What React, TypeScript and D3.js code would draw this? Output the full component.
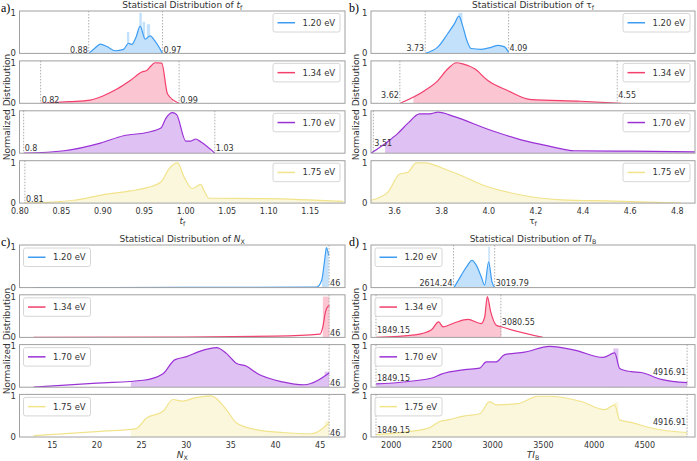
import React from 'react';
import * as d3 from 'd3';

type Pt = [number, number];
type Bar = [number, number, number];
type Mark = { v: number; label: string; side: 'l' | 'r'; ly: number };
type Part = string | { i: string } | { sub: string };

const energies = ['1.20 eV', '1.34 eV', '1.70 eV', '1.75 eV'];
const colors = ['#3d9df3', '#f23f6b', '#9a32d6', '#f1e38c'];

// ---- t_f ----
const tf120: Pt[] = [[0.883, 0], [0.890, 0.12], [0.897, 0.23], [0.905, 0.17], [0.915, 0.065], [0.925, 0.1], [0.931, 0.25], [0.935, 0.22], [0.940, 0.4], [0.945, 0.67], [0.951, 0.35], [0.957, 0.43], [0.963, 0.3], [0.972, 0]];
const tf134: Pt[] = [[0.825, 0], [0.86, 0.04], [0.885, 0.08], [0.90, 0.18], [0.917, 0.35], [0.933, 0.56], [0.947, 0.77], [0.953, 0.81], [0.958, 0.92], [0.963, 1.0], [0.971, 0.99], [0.978, 0.23], [0.992, 0]];
const tf170: Pt[] = [[0.805, 0], [0.853, 0.06], [0.897, 0.25], [0.925, 0.43], [0.953, 0.51], [0.970, 0.62], [0.976, 0.86], [0.984, 1.0], [0.989, 0.95], [1.0, 0.30], [1.006, 0.30], [1.012, 0.35], [1.018, 0.28], [1.035, 0]];
const tf175: Pt[] = [[0.805, 0], [0.865, 0.07], [0.901, 0.21], [0.933, 0.30], [0.953, 0.38], [0.970, 0.52], [0.980, 0.85], [0.990, 0.99], [0.998, 0.64], [1.008, 0.36], [1.018, 0.46], [1.022, 0.31], [1.028, 0.12], [1.098, 0.11], [1.19, 0.04]];
const tfFill: Pt[] = [[0.883, 0.972], [0.825, 0.985], [0.805, 1.03], [0.805, 1.19]];
const tfBars: Bar[][] = [[[0.929, 0.932, 0.53], [0.944, 0.947, 1.0], [0.948, 0.951, 0.78], [0.953, 0.957, 0.72]], [], [], []];
const tfMarks: Mark[][] = [
  [{ v: 0.883, label: '0.88', side: 'l', ly: 0.01 }, { v: 0.972, label: '0.97', side: 'r', ly: 0.01 }],
  [{ v: 0.825, label: '0.82', side: 'r', ly: 0.01 }, { v: 0.992, label: '0.99', side: 'r', ly: 0.01 }],
  [{ v: 0.8045, label: '0.8', side: 'r', ly: 0.05 }, { v: 1.035, label: '1.03', side: 'r', ly: 0.05 }],
  [{ v: 0.806, label: '0.81', side: 'r', ly: 0.02 }],
];
const tfTicks = [0.80, 0.85, 0.90, 0.95, 1.00, 1.05, 1.10, 1.15];

// ---- tau_f ----
const tau120: Pt[] = [[3.73, 0], [3.784, 0.16], [3.826, 0.49], [3.855, 0.74], [3.873, 0.92], [3.89, 0.66], [3.905, 0.35], [3.925, 0.12], [3.968, 0.1], [4.01, 0.15], [4.04, 0.2], [4.067, 0.16], [4.084, 0.02]];
const tau134: Pt[] = [[3.624, 0], [3.727, 0.31], [3.784, 0.56], [3.826, 0.85], [3.862, 1.0], [3.89, 0.97], [3.94, 0.85], [3.996, 0.56], [4.081, 0.31], [4.18, 0.09], [4.392, 0.05], [4.562, 0]];
const tau170: Pt[] = [[3.50, 0], [3.572, 0.29], [3.614, 0.49], [3.657, 0.74], [3.706, 0.97], [3.749, 0.97], [3.784, 1.01], [3.855, 0.90], [3.996, 0.59], [4.137, 0.33], [4.251, 0.18], [4.364, 0.06], [4.605, 0.05], [4.88, 0.03]];
const tau175: Pt[] = [[3.50, 0.07], [3.572, 0.27], [3.62, 0.71], [3.657, 0.76], [3.692, 0.99], [3.727, 0.99], [3.826, 0.81], [3.883, 0.68], [3.968, 0.46], [4.11, 0.23], [4.308, 0.08], [4.535, 0.05], [4.817, 0]];
const tauFill: Pt[] = [[3.73, 4.084], [3.68, 4.56], [3.56, 4.88], [3.50, 4.82]];
const tauBars: Bar[][] = [[[3.872, 3.888, 1.0]], [], [], []];
const tauMarks: Mark[][] = [
  [{ v: 3.73, label: '3.73', side: 'l', ly: 0.05 }, { v: 4.084, label: '4.09', side: 'r', ly: 0.05 }],
  [{ v: 3.6225, label: '3.62', side: 'l', ly: 0.14 }, { v: 4.545, label: '4.55', side: 'r', ly: 0.14 }],
  [{ v: 3.51, label: '3.51', side: 'r', ly: 0.18 }],
  [],
];
const tauTicks = [3.6, 3.8, 4.0, 4.2, 4.4, 4.6, 4.8];

// ---- N_X ----
const nx120: Pt[] = [[12.9, 0], [30, 0.005], [44.6, 0.01], [45.17, 0.18], [45.5, 0.67], [45.7, 0.98], [45.95, 0.79]];
const nx134: Pt[] = [[12.9, 0], [30, 0.01], [40, 0.03], [44.97, 0.08], [45.3, 0.26], [45.6, 0.63], [45.86, 0.76], [46.05, 0.78]];
const nx170: Pt[] = [[12.9, 0], [20, 0.1], [25.2, 0.17], [27.4, 0.33], [28.7, 0.67], [30.05, 0.75], [31.5, 0.88], [33.4, 0.97], [34.5, 0.83], [35.6, 0.59], [36.7, 0.52], [38.0, 0.33], [40.8, 0.13], [43.2, 0.06], [46.0, 0.35]];
const nx175: Pt[] = [[12.9, 0.03], [20.4, 0.14], [24.3, 0.2], [25.6, 0.47], [27.4, 0.63], [28.5, 0.92], [29.6, 0.88], [30.95, 0.96], [32.8, 1.01], [34.5, 0.67], [35.6, 0.35], [37.8, 0.18], [40.8, 0.11], [44.0, 0.08], [46.0, 0.35]];
const nxFill: Pt[] = [[45.2, 46.0], [45.3, 46.05], [23.8, 46.0], [23.8, 46.0]];
const nxBars: Bar[][] = [[], [[45.3, 46.0, 1.0]], [[45.5, 46.0, 0.38]], [[45.5, 46.0, 0.4]]];
const nxMarks: Mark[][] = [0, 1, 2, 3].map(() => [{ v: 46, label: '46', side: 'r', ly: 0.03 } as Mark]);
const nxTicks = [15, 20, 25, 30, 35, 40, 45];

// ---- TI_B ----
const ti120: Pt[] = [[2618, 0], [2690, 0.30], [2740, 0.5], [2796, 0.67], [2838, 0.55], [2888, 0.26], [2921, 0.06], [2960, 0.63], [2993, 0.14], [3020, 0]];
const ti134: Pt[] = [[1852, 0], [2231, 0.06], [2394, 0.18], [2467, 0.38], [2510, 0.26], [2625, 0.36], [2756, 0.44], [2887, 0.34], [2921, 0.5], [2947, 1.0], [2980, 0.63], [3035, 0.3], [3085, 0.26], [3496, 0]];
const ti170: Pt[] = [[1850, 0.08], [2394, 0.22], [2493, 0.32], [2724, 0.43], [2872, 0.47], [2937, 0.62], [3035, 0.62], [3118, 0.80], [3315, 0.86], [3562, 1.0], [3809, 0.91], [4088, 0.73], [4203, 0.84], [4252, 0.46], [4367, 0.38], [4465, 0.36], [4663, 0.19], [4919, 0.11]];
const ti175: Pt[] = [[1852, 0.06], [2362, 0.21], [2477, 0.38], [2559, 0.42], [2724, 0.52], [2872, 0.57], [2970, 0.87], [3035, 0.79], [3249, 0.82], [3446, 1.0], [3545, 1.0], [3873, 0.87], [4104, 0.67], [4203, 0.79], [4252, 0.42], [4367, 0.36], [4532, 0.24], [4696, 0.16], [4919, 0.11]];
const tiFill: Pt[] = [[2618, 3020], [1852, 3085], [1850, 4919], [1852, 4919]];
const tiBars: Bar[][] = [[[2957, 2972, 1.0]], [], [[4190, 4240, 0.95]], [[4190, 4240, 0.85]]];
const tiMarks: Mark[][] = [
  [{ v: 2614.24, label: '2614.24', side: 'l', ly: 0.03 }, { v: 3019.79, label: '3019.79', side: 'r', ly: 0.03 }],
  [{ v: 1849.15, label: '1849.15', side: 'r', ly: 0.1 }, { v: 3080.55, label: '3080.55', side: 'r', ly: 0.3 }],
  [{ v: 1849.15, label: '1849.15', side: 'r', ly: 0.14 }, { v: 4916.91, label: '4916.91', side: 'l', ly: 0.3 }],
  [{ v: 1849.15, label: '1849.15', side: 'r', ly: 0.09 }, { v: 4916.91, label: '4916.91', side: 'l', ly: 0.3 }],
];
const tiTicks = [2000, 2500, 3000, 3500, 4000, 4500];

const FONT = 'DejaVu Sans, sans-serif';
const TXT = '#333';

function rich(parts: Part[], size: number) {
  return parts.map((p, i) => {
    if (typeof p === 'string') return <tspan key={i}>{p}</tspan>;
    if ('i' in p) return <tspan key={i} fontStyle="italic">{p.i}</tspan>;
    return <tspan key={i} fontSize={size * 0.7} dy={size * 0.25}>{p.sub}</tspan>;
  });
}

type PanelProps = {
  id: string;
  letter: string;
  range: [number, number];
  domain: [number, number];
  top: number;
  pitch: number;
  h: number;
  ticks: number[];
  fmt: (v: number) => string;
  data: Pt[][];
  fills: Pt[];
  bars: Bar[][];
  marks: Mark[][];
  legendLeft: boolean;
  title: Part[];
  xlab: Part[];
  ylabX: number;
  letterX: number;
};

function Panel(p: PanelProps) {
  const x = d3.scaleLinear().domain(p.domain).range(p.range);
  const [xa, xb] = p.range;
  const cx = (xa + xb) / 2;
  const bottom = p.top + 3 * p.pitch + p.h;
  return (
    <g fontFamily={FONT} fill={TXT}>
      <text x={p.letterX} y={p.top + 1} fontFamily="Liberation Serif, serif" fontSize={12} fill="#000">{p.letter}</text>
      <text x={cx} y={p.top - 2.8} textAnchor="middle" fontSize={9}>{rich(p.title, 9)}</text>
      <text transform={`translate(${p.ylabX},${(p.top + bottom) / 2}) rotate(-90)`} textAnchor="middle" dominantBaseline="central" fontSize={9}>Normalized Distribution</text>
      {p.data.map((pts, i) => {
        const t = p.top + i * p.pitch;
        const y = d3.scaleLinear().domain([0, 1.045]).range([t + p.h, t]);
        const line = d3.line<Pt>().x(d => x(d[0])).y(d => y(d[1])).curve(d3.curveMonotoneX);
        const area = d3.area<Pt>().x(d => x(d[0])).y0(y(0)).y1(d => y(d[1])).curve(d3.curveMonotoneX);
        const [f0, f1] = p.fills[i];
        const clipId = `clip-${p.id}-${i}`;
        const plotId = `plot-${p.id}-${i}`;
        const lw = 67, lh = 18.5;
        const lx = p.legendLeft ? xa + 4 : xb - 5 - lw;
        const ly = t + (p.legendLeft ? 3 : 2.5);
        return (
          <g key={i}>
            <defs>
              <clipPath id={clipId}><rect x={x(f0)} y={t} width={x(f1) - x(f0)} height={p.h} /></clipPath>
              <clipPath id={plotId}><rect x={xa} y={t - 1} width={xb - xa} height={p.h + 1} /></clipPath>
            </defs>
            <g clipPath={`url(#${plotId})`}>
              <g opacity={0.3} fill={colors[i]}>
                <path d={area(pts) || ''} clipPath={`url(#${clipId})`} />
                {p.bars[i].map((b, j) => (
                  <rect key={j} x={x(b[0])} y={y(b[2])} width={x(b[1]) - x(b[0])} height={y(0) - y(b[2])} />
                ))}
              </g>
              <path d={line(pts) || ''} fill="none" stroke={colors[i]} strokeWidth={1.2} />
            </g>
            {p.marks[i].map((m, j) => (
              <g key={j}>
                <line x1={x(m.v)} x2={x(m.v)} y1={t} y2={t + p.h} stroke="#999" strokeWidth={0.8} strokeDasharray="1.5,1.5" />
                <text x={m.side === 'l' ? x(m.v) - 1 : x(m.v) + 1} y={y(m.ly)} textAnchor={m.side === 'l' ? 'end' : 'start'} fontSize={8}>{m.label}</text>
              </g>
            ))}
            <rect x={xa} y={t} width={xb - xa} height={p.h} fill="none" stroke="#a0a0a0" strokeWidth={1} />
            <text x={xa - 3.5} y={y(1)} textAnchor="end" dominantBaseline="central" fontSize={8.5}>1</text>
            <text x={xa - 3.5} y={y(0)} textAnchor="end" dominantBaseline="central" fontSize={8.5}>0</text>
            <rect x={lx} y={ly} width={lw} height={lh} rx={2} fill="#fff" fillOpacity={0.8} stroke="#ccc" strokeWidth={0.8} />
            <line x1={lx + 4.5} x2={lx + 22} y1={ly + lh / 2} y2={ly + lh / 2} stroke={colors[i]} strokeWidth={1.5} />
            <text x={lx + 29.5} y={ly + lh / 2} dominantBaseline="central" fontSize={8.5}>{energies[i]}</text>
          </g>
        );
      })}
      {p.ticks.map((v, i) => (
        <text key={i} x={x(v)} y={bottom + 10.6} textAnchor="middle" fontSize={8}>{p.fmt(v)}</text>
      ))}
      <text x={cx} y={bottom + 20.5} textAnchor="middle" fontSize={9}>{rich(p.xlab, 9)}</text>
    </g>
  );
}

const ofText = 'Statistical Distribution of ';

export default function App() {
  return (
    <svg width={697} height={461} style={{ position: 'absolute', left: 0, top: 0, background: '#fff' }}>
      <Panel id="a" letter="a)" letterX={1} range={[19.5, 345]} domain={[0.7995, 1.192]} top={11} pitch={49.9} h={42.4}
        ticks={tfTicks} fmt={d3.format('.2f')} data={[tf120, tf134, tf170, tf175]} fills={tfFill} bars={tfBars} marks={tfMarks}
        legendLeft={false} title={[ofText, { i: 't' }, { sub: 'f' }]} xlab={[{ i: 't' }, { sub: 'f' }]} ylabX={6.5} />
      <Panel id="b" letter="b)" letterX={349} range={[371, 695]} domain={[3.5, 4.875]} top={11} pitch={49.9} h={42.4}
        ticks={tauTicks} fmt={d3.format('.1f')} data={[tau120, tau134, tau170, tau175]} fills={tauFill} bars={tauBars} marks={tauMarks}
        legendLeft={false} title={[ofText, 'τ', { sub: 'f' }]} xlab={['τ', { sub: 'f' }]} ylabX={356} />
      <Panel id="c" letter="c)" letterX={1} range={[19.5, 345]} domain={[11.33, 47.78]} top={245} pitch={49.8} h={42.6}
        ticks={nxTicks} fmt={d3.format('d')} data={[nx120, nx134, nx170, nx175]} fills={nxFill} bars={nxBars} marks={nxMarks}
        legendLeft={true} title={[ofText, { i: 'N' }, { sub: 'X' }]} xlab={[{ i: 'N' }, { sub: 'X' }]} ylabX={6.5} />
      <Panel id="d" letter="d)" letterX={349} range={[371, 695]} domain={[1800, 4995]} top={245} pitch={49.8} h={42.6}
        ticks={tiTicks} fmt={d3.format('d')} data={[ti120, ti134, ti170, ti175]} fills={tiFill} bars={tiBars} marks={tiMarks}
        legendLeft={true} title={[ofText, { i: 'TI' }, { sub: 'B' }]} xlab={[{ i: 'TI' }, { sub: 'B' }]} ylabX={356} />
    </svg>
  );
}
